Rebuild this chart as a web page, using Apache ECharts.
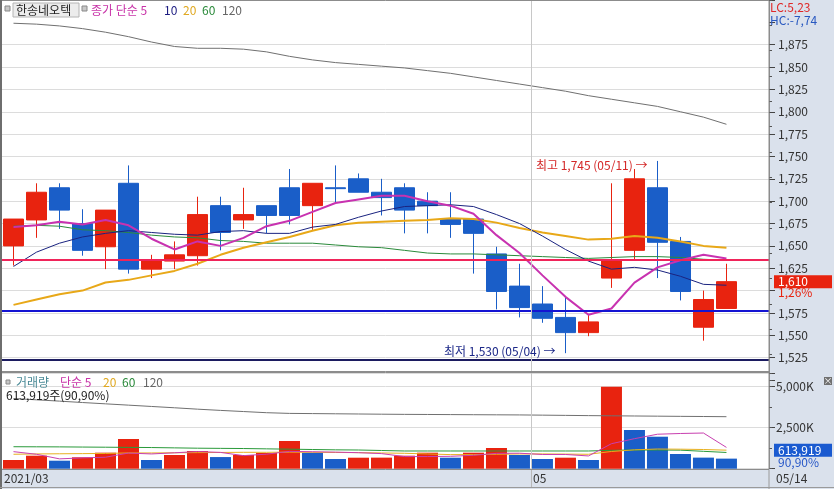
<!DOCTYPE html>
<html><head><meta charset="utf-8">
<script src="https://cdn.jsdelivr.net/npm/echarts@6/dist/echarts.min.js"></script>
<style>html,body{margin:0;padding:0;background:#fff}#c{width:834px;height:489px}</style>
</head><body><div id="c"></div>
<script>
const dates = ['2021/03/31','2021/04/01','2021/04/02','2021/04/05','2021/04/06','2021/04/07','2021/04/08','2021/04/09','2021/04/12','2021/04/13','2021/04/14','2021/04/15','2021/04/16','2021/04/19','2021/04/20','2021/04/21','2021/04/22','2021/04/23','2021/04/26','2021/04/27','2021/04/28','2021/04/29','2021/04/30','2021/05/03','2021/05/04','2021/05/06','2021/05/07','2021/05/10','2021/05/11','2021/05/12','2021/05/13','2021/05/14'];
const opens  = [1650,1679,1715,1675,1649,1720,1624,1633,1639,1695,1679,1695,1715,1695,1715,1725,1710,1715,1700,1680,1680,1641,1605,1585,1570,1553,1614,1645,1715,1655,1559,1580];
const closes = [1680,1710,1690,1645,1690,1624,1634,1640,1685,1665,1685,1684,1684,1720,1714,1710,1704,1690,1695,1674,1664,1599,1581,1569,1553,1565,1634,1725,1654,1599,1590,1610];
const lows   = [1628,1659,1669,1639,1624,1619,1614,1624,1628,1645,1669,1664,1674,1668,1698,1710,1684,1664,1664,1659,1619,1579,1570,1564,1530,1549,1603,1634,1614,1589,1544,1580];
const highs  = [1680,1720,1720,1691,1690,1740,1640,1655,1705,1705,1715,1695,1736,1720,1740,1731,1725,1720,1710,1710,1680,1649,1630,1605,1593,1574,1720,1736,1745,1660,1600,1630];
const ma5   = [1671,1673,1677,1674,1679,1673,1658,1646,1655,1650,1659,1672,1678,1688,1698,1702,1706,1706,1700,1695,1686,1662,1642,1617,1593,1573,1580,1609,1626,1634,1640,1636];
const ma10  = [1627,1643,1653,1660,1664,1667,1665,1663,1662,1666,1667,1664,1664,1671,1674,1682,1689,1694,1695,1696,1694,1685,1675,1661,1646,1633,1624,1626,1623,1616,1607,1606];
const ma20  = [1584,1590,1596,1600,1609,1612,1617,1622,1630,1640,1648,1654,1660,1667,1673,1676,1677,1678,1679,1681,1680,1676,1670,1665,1661,1657,1658,1661,1659,1655,1650,1648];
const ma60  = [1672,1673,1672,1668,1667,1665,1662,1660,1659,1656,1655,1653,1653,1653,1651,1649,1648,1645,1642,1641,1641,1640,1639,1638,1637,1636,1637,1638,1638,1637,1635,1634];
const ma120 = [1899,1898,1896,1893,1889,1884,1878,1873,1871,1871,1870,1867,1862,1858,1855,1853,1851,1849,1846,1843,1839,1835,1831,1827,1823,1818,1814,1810,1806,1800,1794,1786];
const volumes = [530000,793000,488000,695000,976000,1811000,530000,835000,1079000,710000,835000,960000,1689000,976000,591000,671000,675000,793000,976000,671000,976000,1262000,835000,591000,671000,530000,5000000,2360000,1951000,896000,675380,613919];
const volMa5   = [1040,880,600,660,700,953,900,969,1046,993,798,884,1055,1034,1010,977,920,740,740,756,817,936,944,867,867,778,1525,1830,2102,2147,2175,1299];
const volMa20  = [880,900,910,920,930,960,960,970,980,990,1000,1000,1010,1000,990,980,960,940,900,860,860,880,900,900,890,880,1050,1150,1200,1190,1170,1130];
const volMa60  = [1340,1335,1330,1320,1310,1300,1290,1270,1250,1240,1230,1210,1190,1170,1150,1140,1110,1080,1080,1080,1080,1080,1080,1080,1080,1080,1120,1140,1140,1130,1060,990];
const volMa120 = [4280,4200,4120,4035,3955,3875,3795,3715,3630,3555,3485,3415,3372,3360,3348,3336,3323,3313,3306,3299,3292,3285,3278,3265,3251,3237,3225,3214,3203,3192,3182,3171];
const drawnLines = [1634, 1578, 1523];
const priceTicks = [1525, 1875];
const volTickStep = 2500000;

const FONT = '"Noto Sans CJK KR", "Noto Sans", sans-serif';
const UP = '#e8230f', DOWN = '#1a5ec8';
const CLEAR = 'rgba(0,0,0,0)';
const fmt = v => Math.round(v).toLocaleString('en-US');
const pct = v => v.toFixed(2).replace('.', ',');
const n = dates.length;
const last = n - 1;
const lastClose = closes[last];
const prevClose = closes[last - 1];
const hi = Math.max(...highs), hiIdx = highs.indexOf(hi);
const lo = Math.min(...lows), loIdx = lows.indexOf(lo);
const lc = (lastClose - lo) / lo * 100;
const hc = (lastClose - hi) / hi * 100;
const chg = (lastClose - prevClose) / prevClose * 100;
const volRatio = volumes[last] / volumes[last - 1] * 100;

const xLabelMap = {};
xLabelMap[String(-0.5)] = dates[0].slice(0, 7);
const monthBounds = [];
for (let i = 3; i < n; i++) {
  if (dates[i].slice(5, 7) !== dates[i - 1].slice(5, 7)) {
    monthBounds.push(i - 0.5);
    xLabelMap[String(i - 0.5)] = dates[i].slice(5, 7);
  }
}
const XMAX = 32.85;
const pairs = arr => arr.map((v, i) => [i, v]);
const kpairs = arr => arr.map((v, i) => [i, v * 1000]);

const splitColors = [];
for (let v = 1500; v <= 1925; v += 25) splitColors.push(v >= priceTicks[0] && v <= priceTicks[1] ? '#dcdcdc' : CLEAR);

const maLine = (name, data, color, width, xi, yi, z) => ({
  name, type: 'line', xAxisIndex: xi, yAxisIndex: yi, data, showSymbol: false, symbol: 'none',
  lineStyle: { color, width }, z: z || 3, silent: true
});
const txt = (x, y, text, fill, extra) => Object.assign({ type: 'text', z: 8, silent: true, x, y,
  style: Object.assign({ text, fill, font: '12px ' + FONT, verticalAlign: 'middle', textVerticalAlign: 'middle' }, extra || {}) });
const minorAxis = (gi, min, max, step) => ({ type: 'value', gridIndex: gi, position: 'right', min, max, interval: step,
  axisLine: { show: false, onZero: false }, splitLine: { show: false }, axisLabel: { show: false },
  axisTick: { show: true, length: 3, lineStyle: { color: '#555' } } });

const option = {
  animation: false,
  backgroundColor: '#fff',
  grid: [
    { left: 2, right: 65, top: -5.9, height: 385.9 },
    { left: 2, right: 65, top: 373, height: 95.7 }
  ],
  xAxis: [
    { type: 'value', gridIndex: 0, min: -0.5, max: XMAX, show: false, axisLine: { onZero: false } },
    { type: 'value', gridIndex: 1, min: -0.5, max: XMAX,
      axisLine: { show: false, onZero: false }, splitLine: { show: false },
      axisTick: { show: true, customValues: monthBounds, length: 19, lineStyle: { color: '#b8b8b8' } },
      axisLabel: { customValues: Object.keys(xLabelMap).map(Number), formatter: v => xLabelMap[String(v)] || '',
        align: 'left', margin: 4, color: '#333', fontSize: 12, fontFamily: FONT, padding: [0, 0, 0, 2] } }
  ],
  yAxis: [
    { type: 'value', gridIndex: 0, position: 'right', min: 1500, max: 1925, interval: 25,
      axisLine: { show: true, onZero: false, lineStyle: { color: '#8c8c8c' } },
      axisTick: { show: true, length: 6, lineStyle: { color: '#444' } },
      axisLabel: { margin: 9, color: '#333', fontSize: 12, fontFamily: FONT,
        formatter: v => (v >= priceTicks[0] && v <= priceTicks[1] && Math.abs(v - lastClose) > 12) ? fmt(v) : '' },
      splitLine: { show: true, lineStyle: { color: splitColors, width: 1 } } },
    { type: 'value', gridIndex: 1, position: 'right', min: 0, max: 5835000, interval: volTickStep,
      axisLine: { show: true, onZero: false, lineStyle: { color: '#8c8c8c' } },
      axisTick: { show: true, length: 6, lineStyle: { color: '#444' } },
      axisLabel: { margin: 7, color: '#333', fontSize: 12, fontFamily: FONT,
        formatter: v => (v > 0 && v % volTickStep === 0) ? fmt(v / 1000) + 'K' : '' },
      splitLine: { show: true, lineStyle: { color: '#dcdcdc' } } },
    minorAxis(0, 1512.5, 1887.5, 25),
    minorAxis(1, 0, 5835000, 1250000)
  ],
  series: [
    { name: 'price', type: 'candlestick', xAxisIndex: 0, yAxisIndex: 0,
      data: dates.map((d, i) => [i, opens[i], closes[i], lows[i], highs[i]]),
      encode: { x: 0, y: [1, 2, 3, 4] },
      barWidth: 20, z: 2,
      itemStyle: { color: UP, color0: DOWN, borderColor: UP, borderColor0: DOWN, borderWidth: 1 },
      markPoint: {
        symbol: 'circle', symbolSize: 0, silent: true, animation: false,
        data: [
          { coord: [hiIdx, hi], label: { show: true, position: 'left', distance: 10, offset: [0, 4],
              formatter: '최고 ' + fmt(hi) + ' (' + dates[hiIdx].slice(5) + ') →', color: '#d42828', fontSize: 12, fontFamily: FONT } },
          { coord: [loIdx, lo], label: { show: true, position: 'left', distance: 10, offset: [0, -2],
              formatter: '최저 ' + fmt(lo) + ' (' + dates[loIdx].slice(5) + ') →', color: '#1c2888', fontSize: 12, fontFamily: FONT } }
        ]
      },
      markLine: {
        symbol: ['none', 'none'], silent: true, animation: false, label: { show: false },
        data: [
          { yAxis: drawnLines[0], lineStyle: { color: '#f0245a', width: 2, type: 'solid' } },
          { yAxis: drawnLines[1], lineStyle: { color: '#1414d2', width: 2, type: 'solid' } },
          { yAxis: drawnLines[2], lineStyle: { color: '#1c1c60', width: 2, type: 'solid' } },
          ...monthBounds.map(b => ({ xAxis: b, lineStyle: { color: '#c8c8c8', width: 1, type: 'solid' } })),
          { yAxis: lastClose, lineStyle: { color: CLEAR, width: 1 },
            label: { show: true, position: 'end', distance: 5, formatter: fmt(lastClose), color: '#fff',
              backgroundColor: UP, fontSize: 12, fontFamily: FONT, padding: [1, 4, 0, 4], width: 50, lineHeight: 12 } },
          { yAxis: lastClose, lineStyle: { color: CLEAR, width: 1 },
            label: { show: true, position: 'end', distance: 5, offset: [0, 11], formatter: pct(chg) + '%', color: UP,
              fontSize: 12, fontFamily: FONT, padding: [0, 4, 0, 4] } }
        ]
      }
    },
    maLine('ma120', pairs(ma120), '#707070', 1, 0, 0),
    maLine('ma60', pairs(ma60), '#2a8a3a', 1, 0, 0),
    maLine('ma20', pairs(ma20), '#e8a818', 2, 0, 0),
    maLine('ma10', pairs(ma10), '#1a2380', 1, 0, 0),
    maLine('ma5', pairs(ma5), '#c832b0', 2, 0, 0, 4),
    { name: 'volume', type: 'bar', xAxisIndex: 1, yAxisIndex: 1, barWidth: 21, z: 2,
      data: volumes.map((v, i) => ({ value: [i, v], itemStyle: { color: (i === 0 || v >= volumes[i - 1]) ? UP : DOWN } })),
      markLine: {
        symbol: ['none', 'none'], silent: true, animation: false, label: { show: false },
        data: [
          ...monthBounds.map(b => ({ xAxis: b, lineStyle: { color: '#c8c8c8', width: 1, type: 'solid' } })),
          { yAxis: volumes[last], lineStyle: { color: CLEAR, width: 1 },
            label: { show: true, position: 'end', distance: 5, offset: [0, -8.5], formatter: fmt(volumes[last]), color: '#fff',
              backgroundColor: '#1a5ad0', fontSize: 12, fontFamily: FONT, padding: [1, 4, 0, 4], width: 50, lineHeight: 12 } },
          { yAxis: volumes[last], lineStyle: { color: CLEAR, width: 1 },
            label: { show: true, position: 'end', distance: 5, offset: [0, 4], formatter: pct(volRatio) + '%', color: '#2858c8',
              fontSize: 12, fontFamily: FONT, padding: [0, 4, 0, 4] } }
        ]
      }
    },
    maLine('vma120', kpairs(volMa120), '#707070', 1, 1, 1),
    maLine('vma60', kpairs(volMa60), '#2a9a3a', 1, 1, 1),
    maLine('vma20', kpairs(volMa20), '#e8b020', 1, 1, 1),
    maLine('vma5', kpairs(volMa5), '#c840b0', 1, 1, 1, 4)
  ],
  graphic: [
    { type: 'rect', z: -10, silent: true, shape: { x: 769, y: 0, width: 65, height: 489 }, style: { fill: '#dae1ec' } },
    { type: 'rect', z: -10, silent: true, shape: { x: 0, y: 470, width: 834, height: 19 }, style: { fill: '#dae1ec' } },
    { type: 'rect', z: 6, silent: true, shape: { x: 1.5, y: 0.5, width: 767.5, height: 371 }, style: { fill: 'none', stroke: '#8c8c8c', lineWidth: 1 } },
    { type: 'rect', z: 6, silent: true, shape: { x: 1.5, y: 372.5, width: 767.5, height: 97 }, style: { fill: 'none', stroke: '#8c8c8c', lineWidth: 1 } },
    { type: 'line', z: 6, silent: true, shape: { x1: 1, y1: 0, x2: 1, y2: 489 }, style: { stroke: '#6e6e6e', lineWidth: 2 } },
    { type: 'line', z: 6, silent: true, shape: { x1: 0, y1: 487.5, x2: 834, y2: 487.5 }, style: { stroke: '#9a9a9a', lineWidth: 1 } },
    { type: 'line', z: 6, silent: true, shape: { x1: 769, y1: 470, x2: 769, y2: 489 }, style: { stroke: '#9a9a9a', lineWidth: 1 } },
    { type: 'rect', z: 7, silent: true, shape: { x: 5, y: 6, width: 5, height: 5 }, style: { fill: '#c8c8c8', stroke: '#888', lineWidth: 1 } },
    { type: 'rect', z: 7, silent: true, shape: { x: 13, y: 3, width: 66, height: 14 }, style: { fill: '#ececec', stroke: '#b4b4b4', lineWidth: 1 } },
    txt(16, 10.5, '한송네오텍', '#222'),
    { type: 'rect', z: 7, silent: true, shape: { x: 82, y: 6, width: 5, height: 5 }, style: { fill: '#c8c8c8', stroke: '#888', lineWidth: 1 } },
    txt(91, 10.5, '종가 단순 5', '#c832a8'),
    txt(164, 10.5, '10', '#1a1a80'),
    txt(183, 10.5, '20', '#e0a820'),
    txt(202, 10.5, '60', '#2a8a3a'),
    txt(222, 10.5, '120', '#666'),
    txt(770, 7, 'LC:' + pct(lc), '#e02828'),
    txt(770, 20, 'HC:' + pct(hc), '#2858c0'),
    { type: 'rect', z: 7, silent: true, shape: { x: 6, y: 380, width: 4, height: 4 }, style: { fill: '#c8c8c8', stroke: '#888', lineWidth: 1 } },
    txt(16, 382.5, '거래량', '#4a8a96'),
    txt(60, 382.5, '단순 5', '#c832a8'),
    txt(103, 382.5, '20', '#e0a820'),
    txt(122, 382.5, '60', '#2a8a3a'),
    txt(143, 382.5, '120', '#666'),
    txt(6, 395.5, fmt(volumes[last]) + '주(' + pct(volRatio) + '%)', '#222'),
    { type: 'rect', z: 8, silent: true, shape: { x: 824, y: 377, width: 8, height: 8 }, style: { fill: '#707070' } },
    txt(828, 381, '×', '#fff', { font: '9px ' + FONT, align: 'center', textAlign: 'center' }),
    txt(776, 478.5, dates[last].slice(5), '#333')
  ]
};

const chart = echarts.init(document.getElementById('c'), null, { renderer: 'canvas' });
chart.setOption(option);
</script>
</body></html>
